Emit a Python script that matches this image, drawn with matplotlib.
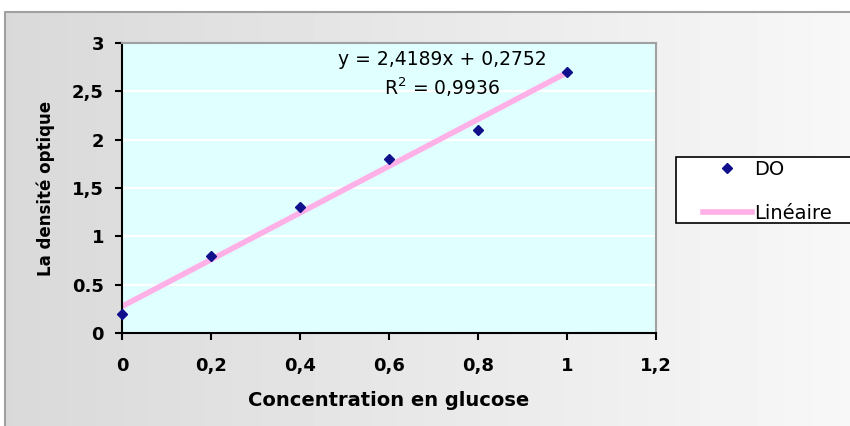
import numpy as np
import matplotlib
matplotlib.use("Agg")
import matplotlib.pyplot as plt
from matplotlib.patches import Rectangle

# data
conc = [0, 0.2, 0.4, 0.6, 0.8, 1.0]
do_vals = [0.2, 0.8, 1.3, 1.8, 2.1, 2.7]
slope, intercept = 2.4189, 0.2752
xtick_vals = [0, 0.2, 0.4, 0.6, 0.8, 1.0, 1.2]
xtick_labels = ["0", "0,2", "0,4", "0,6", "0,8", "1", "1,2"]
ytick_vals = [0, 0.5, 1, 1.5, 2, 2.5, 3]
ytick_labels = ["0", "0.5", "1", "1,5", "2", "2,5", "3"]

plt.rcParams['font.family'] = ['DejaVu Sans']

W, H = 850, 426
fig = plt.figure(figsize=(W / 100, H / 100), dpi=100)

def px(x, y):
    # pixel (from top-left) -> figure coords
    return x / W, 1 - y / H

# gray gradient background
bg = fig.add_axes([0, 0, 1, 1], zorder=-10)
grad = np.linspace(0.85, 0.97, 256).reshape(1, -1)
bg.imshow(grad, cmap='gray', vmin=0, vmax=1, aspect='auto', extent=[0, 1, 0, 1])
bg.set_xlim(0, 1)
bg.set_ylim(0, 1)
bg.axis('off')
fig.patches.append(Rectangle((0, 0), 5 / W, 1, transform=fig.transFigure,
                             facecolor='white', edgecolor='none', zorder=-5))
fig.patches.append(Rectangle((0, 1 - 12 / H), 1, 12 / H, transform=fig.transFigure,
                             facecolor='white', edgecolor='none', zorder=-5))
fig.lines.append(plt.Line2D([5 / W, 5 / W, 1], [0, 1 - 12 / H, 1 - 12 / H],
                            transform=fig.transFigure, color='#a0a0a0', lw=1.5))

ax = fig.add_axes([122 / W, 1 - 333 / H, (656 - 122) / W, (333 - 43) / H])
ax.set_facecolor('#e0ffff')
for y in ytick_vals[1:-1]:
    ax.axhline(y, color='white', lw=1.5, zorder=0)

xs = np.array([0, 1.0])
ax.plot(xs, slope * xs + intercept, color='#ffb0e6', lw=4, label='Linéaire', zorder=2)
ax.plot(conc, do_vals, 'D', color='#10108c', ms=5.5, label='DO', zorder=3, clip_on=False)

ax.set_xlim(0, 1.2)
ax.set_ylim(0, 3)
ax.set_xticks(xtick_vals)
ax.set_xticklabels(xtick_labels)
ax.set_yticks(ytick_vals)
ax.set_yticklabels(ytick_labels)
ax.tick_params(direction='out', length=5, width=1.5, colors='black', labelsize=13, pad=12)
ax.tick_params(axis='y', pad=8)
for lab in ax.get_xticklabels() + ax.get_yticklabels():
    lab.set_fontweight('bold')
for side in ['left', 'bottom']:
    ax.spines[side].set_color('black')
    ax.spines[side].set_linewidth(1.5)
for side in ['top', 'right']:
    ax.spines[side].set_color('#a0a0a0')
    ax.spines[side].set_linewidth(1.5)

ax.set_xlabel('Concentration en glucose', fontsize=14, fontweight='bold', labelpad=12)
ax.set_ylabel('La densité optique', fontsize=12, fontweight='bold', labelpad=12)

ax.text(0.72, 2.83, 'y = 2,4189x + 0,2752', fontsize=13.5, ha='center', va='center')
ax.text(0.72, 2.54, 'R$^2$ = 0,9936', fontsize=13.5, ha='center', va='center')

# legend frame running off the right edge
x0, y0 = px(676, 223)
fig.patches.append(Rectangle((x0, y0), 1.0 - x0 + 0.05, (223 - 157) / H,
                             transform=fig.transFigure, facecolor='white',
                             edgecolor='black', lw=1.2, zorder=1))
handles, labels = ax.get_legend_handles_labels()
leg = fig.legend(handles[::-1], labels[::-1], loc='upper left',
                 bbox_to_anchor=px(703, 160), fontsize=14, frameon=False,
                 borderpad=0, labelspacing=1.3, handlelength=2.5,
                 handletextpad=0.15, borderaxespad=0)
leg.set_zorder(2)

fig.savefig('out.png', dpi=100)
